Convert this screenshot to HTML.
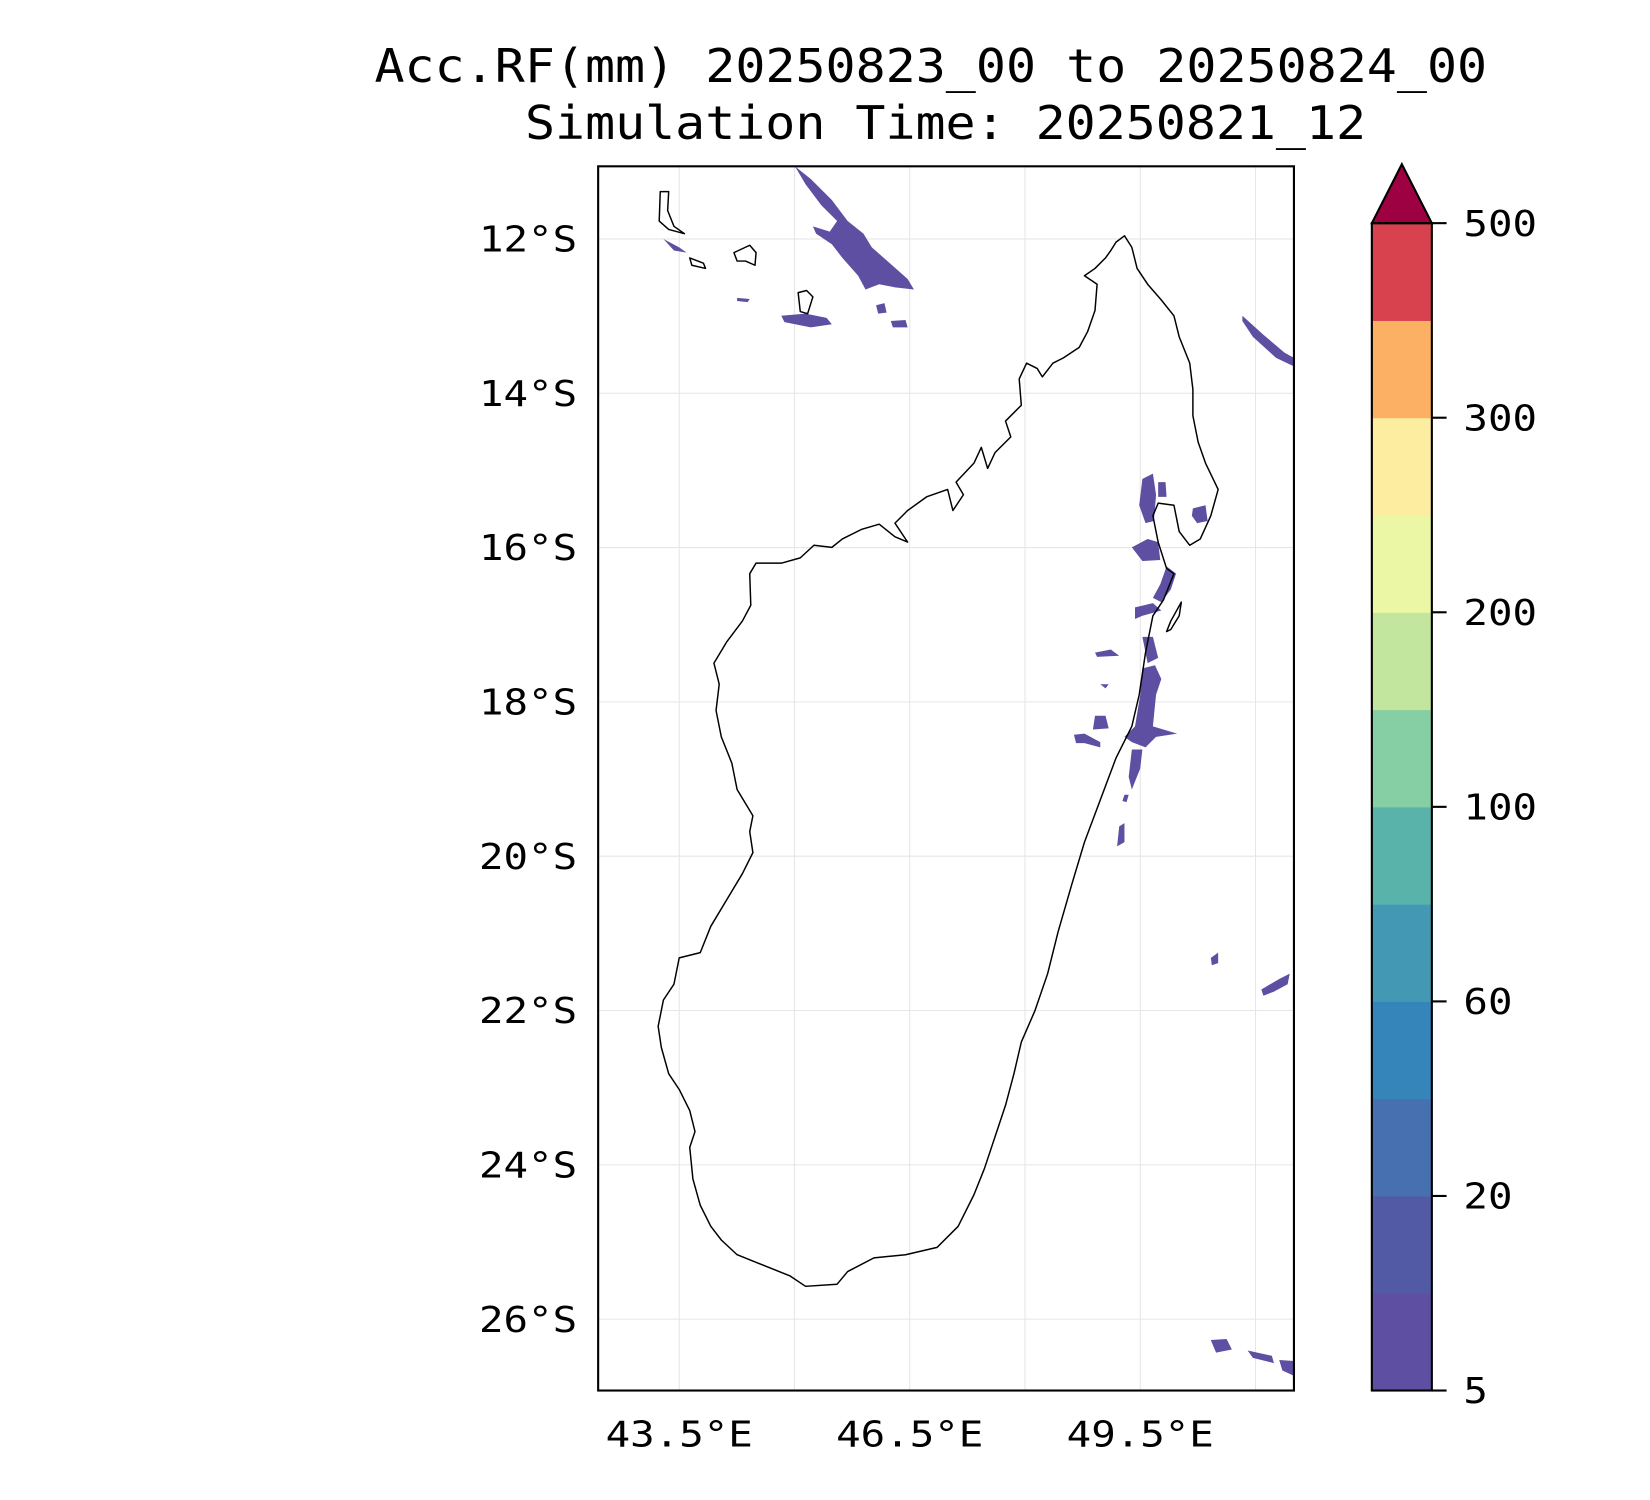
<!DOCTYPE html>
<html><head><meta charset="utf-8"><style>
html,body{margin:0;padding:0;background:#fff;}
svg{display:block;font-family:"DejaVu Sans Mono","Liberation Mono",monospace;}
</style></head><body>
<svg id="chart" width="1650" height="1500" viewBox="0 0 1567 1425" xmlns="http://www.w3.org/2000/svg">
<text x="884" y="78" text-anchor="middle" font-size="44" textLength="1057" lengthAdjust="spacingAndGlyphs">Acc.RF(mm) 20250823_00 to 20250824_00</text>
<text x="898" y="132" text-anchor="middle" font-size="44" textLength="799" lengthAdjust="spacingAndGlyphs">Simulation Time: 20250821_12</text>
<g id="map">
<rect x="568" y="158" width="661" height="1163" fill="#fff"/>
<g id="grid"></g>
<g fill="#5e4fa2" stroke="none">
<path d="M755,158 L770,170 L790,190 L805,210 L820,222 L828,235 L845,250 L862,265 L868,275 L850,273 L835,270 L822,275 L815,262 L800,245 L790,232 L775,222 L772,215 L788,220 L795,210 L780,195 L765,175Z"/>
<path d="M742,300 L765,298 L785,302 L790,308 L770,311 L745,306Z"/>
<path d="M700,283 L712,284 L710,287 L700,286Z"/>
<path d="M832,290 L840,288 L842,297 L834,298Z"/>
<path d="M846,305 L860,304 L862,311 L848,311Z"/>
<path d="M630,227 L645,235 L652,240 L640,238Z"/>
<path d="M1180,300 L1200,318 L1220,335 L1229,340 L1229,348 L1212,340 L1190,320 L1180,305Z"/>
<path d="M1085,455 L1095,450 L1098,470 L1096,495 L1088,497 L1082,480Z"/>
<path d="M1100,458 L1107,458 L1108,472 L1100,472Z"/>
<path d="M1133,483 L1145,480 L1147,495 L1137,497 L1132,490Z"/>
<path d="M1075,520 L1090,512 L1100,515 L1102,532 L1085,533Z"/>
<path d="M1108,538 L1117,545 L1112,560 L1103,572 L1095,568 L1102,555Z"/>
<path d="M1078,577 L1095,573 L1103,580 L1085,585 L1078,588Z"/>
<path d="M1085,605 L1095,605 L1100,625 L1090,630Z"/>
<path d="M1040,620 L1055,617 L1063,623 L1042,624Z"/>
<path d="M1085,635 L1097,632 L1103,645 L1098,660 L1095,690 L1118,697 L1098,700 L1088,710 L1075,705 L1068,700 L1078,690 L1083,660Z"/>
<path d="M1045,650 L1053,650 L1050,654Z"/>
<path d="M1040,680 L1050,680 L1053,692 L1038,693Z"/>
<path d="M1020,698 L1030,697 L1045,705 L1045,710 L1030,706 L1022,706Z"/>
<path d="M1075,712 L1085,712 L1083,730 L1075,750 L1072,738Z"/>
<path d="M1068,755 L1072,755 L1070,762 L1066,761Z"/>
<path d="M1063,785 L1068,782 L1068,800 L1061,804Z"/>
<path d="M1150,910 L1157,905 L1157,915 L1151,917Z"/>
<path d="M1198,940 L1215,930 L1225,925 L1223,935 L1210,942 L1200,946Z"/>
<path d="M1150,1273 L1165,1272 L1170,1282 L1155,1285Z"/>
<path d="M1185,1283 L1208,1288 L1210,1295 L1190,1290Z"/>
<path d="M1215,1292 L1229,1293 L1229,1307 L1218,1302Z"/>
</g>
<g fill="none" stroke="#000" stroke-width="1.4" stroke-linejoin="round">
<path d="M1068,224 L1075,235 L1080,255 L1090,270 L1103,285 L1115,300 L1120,320 L1130,345 L1133,370 L1133,395 L1138,420 L1145,440 L1157,465 L1150,490 L1140,512 L1130,518 L1120,505 L1115,480 L1100,478 L1095,490 L1100,515 L1108,540 L1115,545 L1105,570 L1095,585 L1088,620 L1082,660 L1075,690 L1060,720 L1045,760 L1030,800 L1018,840 L1005,885 L995,925 L983,960 L970,990 L963,1020 L955,1050 L945,1080 L935,1110 L925,1135 L910,1165 L890,1185 L860,1192 L830,1195 L805,1208 L795,1220 L765,1222 L750,1212 L720,1200 L700,1192 L685,1178 L675,1165 L665,1145 L658,1120 L655,1090 L660,1075 L655,1055 L645,1035 L635,1020 L628,995 L625,975 L630,950 L640,935 L645,910 L665,905 L675,880 L690,855 L705,830 L715,810 L712,790 L715,775 L700,750 L695,725 L685,700 L680,675 L683,650 L678,630 L690,610 L705,590 L713,575 L712,545 L718,535 L742,535 L760,530 L773,518 L790,520 L800,512 L818,503 L835,498 L850,510 L862,515 L850,497 L862,485 L880,472 L900,465 L905,485 L915,470 L908,458 L925,440 L932,425 L938,445 L945,430 L960,415 L955,400 L970,385 L968,360 L975,345 L985,350 L990,358 L1000,345 L1010,340 L1025,330 L1033,315 L1040,295 L1042,270 L1030,262 L1040,255 L1050,245 L1055,238 L1060,230 Z"/>
<path d="M1122,572 L1112,590 L1108,600 L1112,598 L1120,585Z"/>
<path d="M627,182 L635,182 L634,200 L640,215 L650,222 L635,218 L626,210Z"/>
<path d="M655,245 L668,250 L670,255 L657,252Z"/>
<path d="M697,240 L712,233 L718,240 L717,252 L708,248 L700,248Z"/>
<path d="M758,278 L766,276 L772,282 L767,298 L760,296Z"/>
</g>
<rect x="568" y="158" width="661" height="1163" fill="none" stroke="#000" stroke-width="2"/>
<g id="yticks"></g>
<g id="xticks"></g>
</g>
<g id="cbar"></g>
</svg>
<script>
const lonTicks = [43.5, 46.5, 49.5];
const lonGrid = [43.5, 45, 46.5, 48, 49.5, 51];
const latTicks = [12, 14, 16, 18, 20, 22, 24, 26];
const cbLevels = [5, 10, 20, 40, 60, 80, 100, 150, 200, 250, 300, 400, 500];
const cbLabels = [5, 20, 60, 100, 200, 300, 500];
const cbColors = ["#5e4fa2","#525aa6","#4670b0","#3585bb","#4399b4","#5ab3ab","#86cfa5","#c3e69f","#ecf7a5","#fdeda0","#fbb063","#d7424e"];
const NS = "http://www.w3.org/2000/svg";
const X0 = 568, X1 = 1229, Y0 = 158, Y1 = 1321;
const CW = 23.3; // rendered char width of tick labels
function xLon(l){ return 645 + (l - 43.5) * 73.0; }
function yLat(l){ return 227 + (l - 12) * 73.3; }
function mk(tag, attrs, parent){ const e = document.createElementNS(NS, tag); for (const k in attrs) e.setAttribute(k, attrs[k]); parent.appendChild(e); return e; }
const grid = document.getElementById('grid');
lonGrid.forEach(l => {
  const ln = mk('line', {x1: xLon(l), x2: xLon(l), y1: Y0, y2: Y1, stroke: '#e6e6e6', 'stroke-width': 1}, grid);
  
  
});
latTicks.forEach(l => {
  const ln = mk('line', {x1: X0, x2: X1, y1: yLat(l), y2: yLat(l), stroke: '#e6e6e6', 'stroke-width': 1}, grid);
  
  
});
const yt = document.getElementById('yticks');
latTicks.forEach(l => {
  const s = l + '°S';
  const t = mk('text', {x: 548, y: yLat(l) + 12, 'text-anchor': 'end', 'font-size': 34, textLength: s.length * CW, lengthAdjust: 'spacingAndGlyphs'}, yt);
  t.textContent = s;
  
  
});
const xt = document.getElementById('xticks');
lonTicks.forEach(l => {
  const s = l.toFixed(1) + '°E';
  const t = mk('text', {x: xLon(l), y: 1374, 'text-anchor': 'middle', 'font-size': 34, textLength: s.length * CW, lengthAdjust: 'spacingAndGlyphs'}, xt);
  t.textContent = s;
  
  
});
const cb = document.getElementById('cbar');
const CBX = 1303, CBW = 57, CBT = 212, CBB = 1321;
const n = cbLevels.length - 1;
function yIdx(i){ return CBB - (CBB - CBT) * i / n; }
cbColors.forEach((c, i) => {
  const r = mk('rect', {x: CBX, y: yIdx(i + 1), width: CBW, height: yIdx(i) - yIdx(i + 1) + 0.5, fill: c}, cb);
  
  
});
const tri = mk('polygon', {points: `${CBX},${CBT} ${CBX + CBW},${CBT} ${CBX + CBW / 2},156`, fill: '#9e0142', stroke: '#000', 'stroke-width': 2}, cb);


const fr = mk('rect', {x: CBX, y: CBT, width: CBW, height: CBB - CBT, fill: 'none', stroke: '#000', 'stroke-width': 2}, cb);


cbLabels.forEach(v => {
  const y = yIdx(cbLevels.indexOf(v));
  const tk = mk('line', {x1: CBX + CBW, x2: CBX + CBW + 14, y1: y, y2: y, stroke: '#000', 'stroke-width': 2}, cb);
  
  
  const s = String(v);
  const t = mk('text', {x: 1390, y: y + 12, 'font-size': 34, textLength: s.length * CW, lengthAdjust: 'spacingAndGlyphs'}, cb);
  t.textContent = s;
  
  
});
</script>
</body></html>
